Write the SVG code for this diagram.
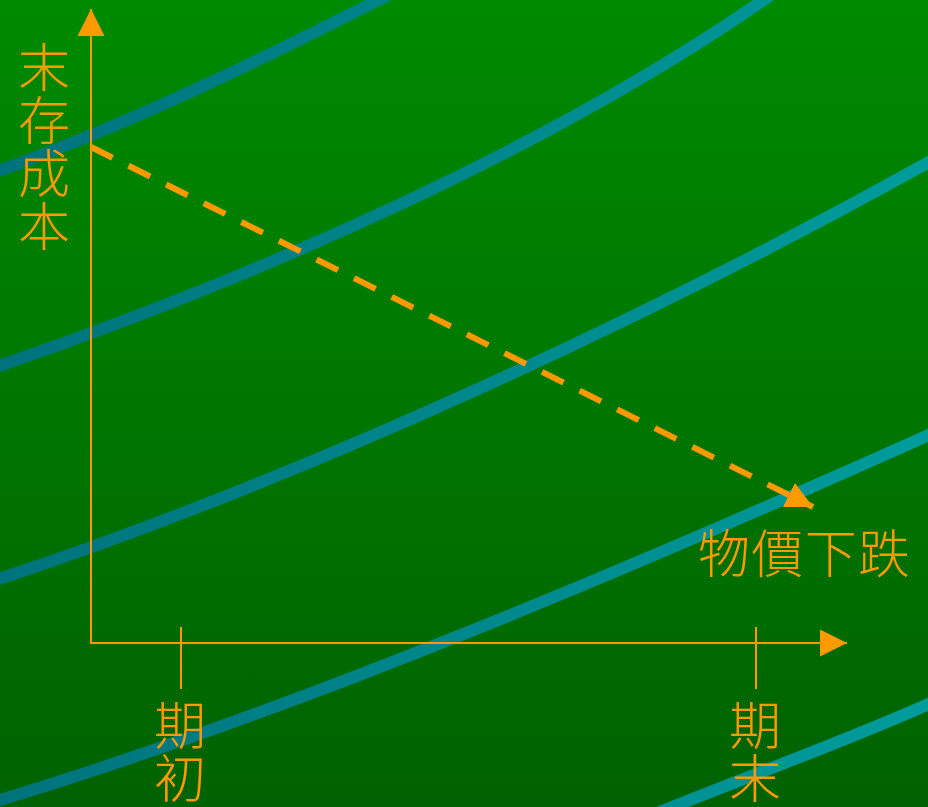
<svg xmlns="http://www.w3.org/2000/svg" width="928" height="807" viewBox="0 0 928 807">
<defs>
<linearGradient id="bg" x1="0" y1="0" x2="0" y2="1">
<stop offset="0" stop-color="#008a00"/>
<stop offset="1" stop-color="#006200"/>
</linearGradient>
<linearGradient id="teal" gradientUnits="userSpaceOnUse" x1="0" y1="0" x2="928" y2="0">
<stop offset="0" stop-color="#00737c"/>
<stop offset="1" stop-color="#009c9c"/>
</linearGradient>
<marker id="ah" viewBox="0 0 27 27" refX="27" refY="13.5" markerWidth="27" markerHeight="27" markerUnits="userSpaceOnUse" orient="auto">
<path d="M0 0 L27 13.5 L0 27 Z" fill="#ff9900"/>
</marker>
</defs>
<style>
.curve{fill:none;stroke:url(#teal);stroke-width:12}
.axis{fill:none;stroke:#ff9900;stroke-width:2}
.dash{fill:none;stroke:#ff9900;stroke-width:6;stroke-dasharray:24 18}
text{font-family:"Noto Sans CJK TC","Noto Sans CJK SC",sans-serif;font-weight:300;fill:#ff9900;font-size:52px}
.v{writing-mode:vertical-rl;letter-spacing:1px}
</style>
<rect width="928" height="807" fill="url(#bg)"/>
<g id="curves">
<path class="curve" d="M -10 174 C 120 128, 250 66, 390 -6"/>
<path class="curve" d="M -10 369 C 250 280, 550 150, 775 -8"/>
<path class="curve" d="M -10 582 C 300 480, 650 318, 940 156"/>
<path class="curve" d="M -10 803 C 300 710, 650 560, 940 430"/>
<path class="curve" d="M 640 820 C 750 775, 850 740, 940 699"/>
</g>
<g id="connectors">
<path class="axis" d="M 91 643 L 91 9" marker-end="url(#ah)"/>
<path class="axis" d="M 90 643 L 847 643" marker-end="url(#ah)"/>
<line class="axis" x1="181" y1="627" x2="181" y2="689"/>
<line class="axis" x1="756" y1="627" x2="756" y2="689"/>
<path class="dash" d="M 91 147 L 813 507" marker-end="url(#ah)"/>
</g>
<g id="y-label">
<text class="v" x="44" y="41">末存成本</text>
</g>
<g id="x-label">
<text x="698" y="573" font-size="53" textLength="212">物價下跌</text>
</g>
<g id="start-label">
<text class="v" x="180" y="699">期初</text>
</g>
<g id="end-label">
<text class="v" x="755" y="699">期末</text>
</g>
</svg>
